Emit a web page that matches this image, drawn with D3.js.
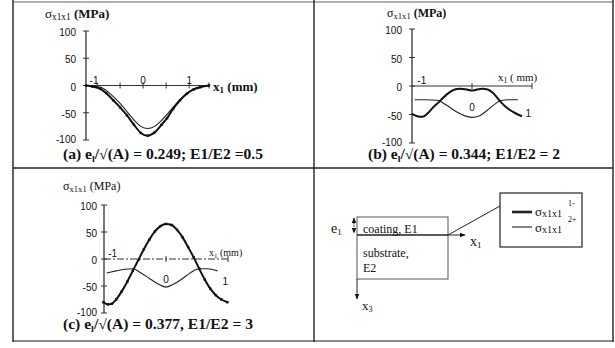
<html>
<head>
<script src="https://d3js.org/d3.v7.min.js"></script>
<style>
  body { margin: 0; background: #fff; }
  text { fill: #111; }
  .tick { font: 10px "Liberation Sans", Arial, sans-serif; }
  .serif { font-family: "Liberation Serif", "Times New Roman", serif; }
</style>
</head>
<body>
<svg id="svg" width="615" height="348"></svg>
<script>
// DATA (x in mm, sigma in MPa)
const yTicks = [100, 50, 0, -50, -100]
const yTickLabels = ["100", "50", "0", "-50", "-100"]
const xTickLabels = ["-1", "0", "1"]

// (a) e1/sqrt(A) = 0.249, E1/E2 = 0.5
const aThick = [[-1.24, 0], [-1.1, -2], [-0.93, -6], [-0.8, -14], [-0.65, -27], [-0.5, -40], [-0.35, -55],
  [-0.2, -72], [-0.05, -87], [0.1, -92], [0.25, -86], [0.4, -72], [0.52, -60], [0.65, -43], [0.8, -27],
  [0.95, -15], [1.1, -7], [1.25, -3], [1.43, 0]]
const aThin = [[-1.24, 0], [-1.1, -1], [-0.93, -3], [-0.8, -9], [-0.65, -20], [-0.5, -33], [-0.35, -48],
  [-0.2, -63], [-0.05, -75], [0.1, -79], [0.25, -75], [0.4, -64], [0.52, -53], [0.65, -40], [0.8, -26],
  [0.95, -14], [1.1, -6], [1.25, -2], [1.43, 0]]

// (b) e1/sqrt(A) = 0.344, E1/E2 = 2
const bThick = [[-1.15, -49], [-1.05, -53], [-0.95, -54], [-0.85, -48], [-0.75, -38], [-0.62, -27], [-0.5, -16],
  [-0.38, -8], [-0.25, -5], [-0.1, -6], [0, -8], [0.1, -6], [0.2, -5], [0.3, -6], [0.4, -12], [0.54, -27],
  [0.65, -37], [0.78, -45], [0.88, -50], [0.96, -53]]
const bThin = [[-1.1, -24], [-0.9, -24], [-0.67, -25], [-0.5, -33], [-0.3, -45], [-0.15, -52], [0, -55],
  [0.15, -52], [0.3, -42], [0.45, -31], [0.54, -26], [0.7, -24], [0.88, -24]]

// (c) e1/sqrt(A) = 0.377, E1/E2 = 3
const cThick = [[-1.13, -80], [-1.05, -84], [-0.98, -83], [-0.9, -75], [-0.8, -60], [-0.7, -42], [-0.6, -22],
  [-0.5, -2], [-0.4, 18], [-0.3, 36], [-0.2, 51], [-0.1, 61], [0, 65], [0.1, 63], [0.2, 54], [0.3, 40],
  [0.4, 22], [0.5, 3], [0.6, -18], [0.7, -38], [0.8, -55], [0.9, -67], [1.0, -75], [1.11, -80]]
const cThin = [[-1.07, -26], [-0.9, -22], [-0.75, -19], [-0.6, -18], [-0.45, -26], [-0.3, -36], [-0.15, -46],
  [0, -52], [0.15, -46], [0.3, -36], [0.45, -25], [0.6, -18], [0.75, -18], [0.93, -22]]

const svg = d3.select("#svg")

// table frame
const frame = svg.append("g").attr("stroke", "#222").attr("stroke-width", 1.4)
frame.append("line").attr("x1", 13).attr("y1", 2).attr("x2", 613).attr("y2", 2).attr("stroke", "#999")
frame.append("line").attr("x1", 13).attr("y1", 168).attr("x2", 613).attr("y2", 168)
frame.append("line").attr("x1", 13).attr("y1", 341).attr("x2", 613).attr("y2", 341).attr("stroke", "#666")
frame.append("line").attr("x1", 13).attr("y1", 0).attr("x2", 13).attr("y2", 342)
frame.append("line").attr("x1", 314).attr("y1", 0).attr("x2", 314).attr("y2", 342)
frame.append("line").attr("x1", 613).attr("y1", 0).attr("x2", 613).attr("y2", 342)

const panels = [
  { thick: aThick, thin: aThin, xd: [-1.24, 1.43], xr: [86, 209], yr: [140, 31], xTicks: [-1, -0.5, 0, 0.5, 1, 1.43],
    labGap: 10, markers: true, dash: null,
    xl: [[-1, -3, -2], [0, 0, -2], [1, 0, -2]] },
  { thick: bThick, thin: bThin, xd: [-1.15, 1.15], xr: [412, 532], yr: [143, 29], xTicks: [0, 1.15],
    labGap: 10, markers: false, dash: null,
    xl: [[-1, 2, -2], [0, 0, 25], [1, 4, 31]] },
  { thick: cThick, thin: cThin, xd: [-1.12, 1.12], xr: [104, 228], yr: [313, 205], xTicks: [0, 1.12],
    labGap: 7, markers: true, dash: "7,2,2,2",
    xl: [[-1, 2, -2], [0, 0, 24], [1, 4, 26]] }
]

panels.forEach(p => {
  const x = d3.scaleLinear().domain(p.xd).range(p.xr)
  const y = d3.scaleLinear().domain([-100, 100]).range(p.yr)
  const g = svg.append("g")
  const x0 = p.xr[0]

  // y axis
  g.append("line").attr("x1", x0).attr("x2", x0).attr("y1", y(100)).attr("y2", y(-100))
    .attr("stroke", "#333").attr("stroke-width", 1.3)
  g.selectAll(".yt").data(yTicks).enter().append("line")
    .attr("x1", x0 - 3).attr("x2", x0 + 3).attr("y1", d => y(d)).attr("y2", d => y(d))
    .attr("stroke", "#333")
  g.selectAll(".yl").data(yTicks).enter().append("text").attr("class", "tick")
    .attr("x", x0 - p.labGap).attr("y", d => y(d) + (d === -100 ? 3 : 5)).attr("text-anchor", "end")
    .text((d, i) => yTickLabels[i])

  // x axis
  g.append("line").attr("x1", x0).attr("x2", p.xr[1]).attr("y1", y(0)).attr("y2", y(0))
    .attr("stroke", "#333").attr("stroke-width", 1.1).attr("stroke-dasharray", p.dash)
  g.selectAll(".xt").data(p.xTicks).enter().append("line")
    .attr("x1", d => x(d)).attr("x2", d => x(d)).attr("y1", y(0) - 3).attr("y2", y(0) + 3)
    .attr("stroke", "#333")
  g.selectAll(".xl").data(p.xl).enter().append("text").attr("class", "tick")
    .attr("x", d => x(d[0]) + d[1]).attr("y", d => y(0) + d[2]).attr("text-anchor", "middle")
    .text((d, i) => xTickLabels[i])

  const line = d3.line().x(d => x(d[0])).y(d => y(d[1])).curve(d3.curveMonotoneX)
  g.append("path").attr("d", line(p.thin)).attr("fill", "none").attr("stroke", "#222").attr("stroke-width", 1.1)
  g.append("path").attr("d", line(p.thick)).attr("fill", "none").attr("stroke", "#111").attr("stroke-width", 2)
  if (p.markers) {
    g.selectAll(".m").data(p.thick).enter().append("rect")
      .attr("x", d => x(d[0]) - 1.2).attr("y", d => y(d[1]) - 1.2)
      .attr("width", 2.4).attr("height", 2.4).attr("fill", "#111")
  }
})

// axis titles
function sigmaTitle(x, yb, size, bold) {
  const t = svg.append("text").attr("class", "serif").attr("x", x).attr("y", yb)
    .attr("font-size", size)
  t.append("tspan").text("σ")
  t.append("tspan").attr("font-size", size * 0.72).attr("dy", 2).text("x1x1")
  t.append("tspan").attr("dy", -2).attr("font-weight", bold ? "bold" : "normal").text(" (MPa)")
}
sigmaTitle(45, 18, 13, true)
sigmaTitle(387, 17, 12, true)
sigmaTitle(63, 190, 12, false)

function x1Title(x, yb, size, bold, txt) {
  const t = svg.append("text").attr("class", "serif").attr("x", x).attr("y", yb)
    .attr("font-size", size).attr("font-weight", bold ? "bold" : "normal")
  t.append("tspan").text("x")
  t.append("tspan").attr("font-size", size * 0.7).attr("dy", 2).text("1")
  t.append("tspan").attr("dy", -2).text(txt)
}
x1Title(213, 91, 13, true, " (mm)")
x1Title(498, 81, 11, false, " ( mm)")
x1Title(209, 256, 10, false, " (mm)")

// panel captions
function caption(x, yb, w, letter, ratio) {
  const t = svg.append("text").attr("class", "serif").attr("x", x).attr("y", yb)
    .attr("font-size", 14).attr("font-weight", "bold")
  t.append("tspan").text(letter + " e")
  t.append("tspan").attr("font-size", 9).attr("dy", 3).text("l")
  t.append("tspan").attr("dy", -3).text(ratio)
  t.attr("textLength", w).attr("lengthAdjust", "spacingAndGlyphs")
}
caption(63, 159, 200, "(a)", "/√(A) = 0.249; E1/E2 =0.5")
caption(368, 159, 192, "(b)", "/√(A) = 0.344; E1/E2 = 2")
caption(63, 329, 190, "(c)", "/√(A) = 0.377, E1/E2 = 3")

// panel (d): schematic and legend
const d = svg.append("g").attr("stroke", "#222").attr("fill", "none")
svg.append("defs").append("marker").attr("id", "ah").attr("viewBox", "0 0 10 10")
  .attr("refX", 9).attr("refY", 5).attr("markerWidth", 6).attr("markerHeight", 6).attr("orient", "auto-start-reverse")
  .append("path").attr("d", "M0,1L10,5L0,9z").attr("fill", "#111")
d.append("rect").attr("x", 357).attr("y", 217).attr("width", 91).attr("height", 62).attr("stroke", "#555")
d.append("line").attr("x1", 357).attr("x2", 448).attr("y1", 235).attr("y2", 235).attr("stroke-width", 1.3)
d.append("line").attr("x1", 448).attr("x2", 465).attr("y1", 235).attr("y2", 235).attr("marker-end", "url(#ah)")
d.append("line").attr("x1", 357).attr("x2", 357).attr("y1", 279).attr("y2", 299).attr("marker-end", "url(#ah)")
d.append("line").attr("x1", 354).attr("x2", 354).attr("y1", 218).attr("y2", 233).attr("stroke-dasharray", "1.5,1")
  .attr("marker-start", "url(#ah)").attr("marker-end", "url(#ah)")
d.append("line").attr("x1", 448).attr("y1", 235).attr("x2", 500).attr("y2", 206)
d.append("rect").attr("x", 500).attr("y", 193).attr("width", 82).attr("height", 54).attr("stroke-width", 1.2)
d.append("line").attr("x1", 512).attr("x2", 532).attr("y1", 212).attr("y2", 212).attr("stroke-width", 2.6)
d.append("line").attr("x1", 512).attr("x2", 532).attr("y1", 227).attr("y2", 227).attr("stroke-width", 1.1)

function st(x, y, size, txt) {
  return svg.append("text").attr("class", "serif").attr("x", x).attr("y", y).attr("font-size", size).text(txt)
}
const e1 = st(331, 233, 14, "e")
e1.append("tspan").attr("font-size", 9).attr("dy", 2).text("1")
st(363, 233, 12, "coating, E1")
st(363, 257, 12, "substrate,")
st(363, 272, 12, "E2")
const x1 = st(470, 246, 14, "x")
x1.append("tspan").attr("font-size", 9).attr("dy", 2).text("1")
const x3 = st(362, 310, 13, "x")
x3.append("tspan").attr("font-size", 8).attr("dy", 2).text("3")
const l1 = st(535, 216, 13, "σ")
l1.append("tspan").attr("font-size", 10).attr("dy", 1).text("x1x1")
st(568, 206, 8, "1-")
const l2 = st(535, 232, 13, "σ")
l2.append("tspan").attr("font-size", 10).attr("dy", 1).text("x1x1")
st(568, 222, 8, "2+")
</script>
</body>
</html>
